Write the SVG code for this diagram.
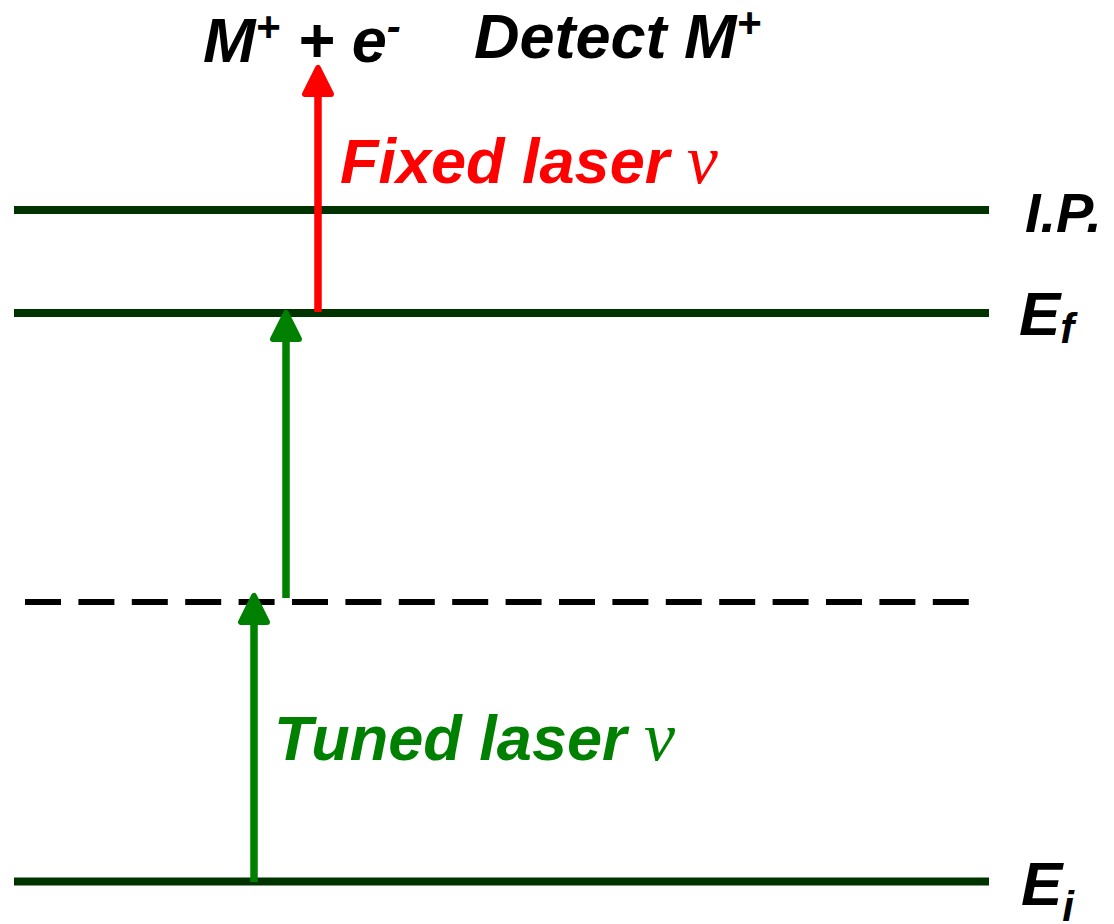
<svg xmlns="http://www.w3.org/2000/svg" width="1114" height="924" viewBox="0 0 1114 924">
<style>
.lvl{stroke:#003300;stroke-width:8;fill:none}
.dash{stroke:#000;stroke-width:6;stroke-dasharray:36 17.4;fill:none}
.t{font-family:"Liberation Sans",Arial,sans-serif;font-weight:bold;font-style:italic}
.nu{font-family:"Liberation Serif","Times New Roman",serif;font-style:italic;font-weight:normal}
.red{stroke:#FF0000;stroke-width:7.5;fill:none}
.grn{stroke:#008000;stroke-width:7.5;fill:none}
</style>
<defs>
<marker id="ahR" markerUnits="userSpaceOnUse" markerWidth="60" markerHeight="60" refX="0" refY="0" viewBox="-30 -30 60 60" orient="auto" overflow="visible">
<path d="M20,0 L-6,-13 L-6,13 Z" fill="#FF0000" stroke="#FF0000" stroke-width="6" stroke-linejoin="round"/>
</marker>
<marker id="ahG" markerUnits="userSpaceOnUse" markerWidth="60" markerHeight="60" refX="0" refY="0" viewBox="-30 -30 60 60" orient="auto" overflow="visible">
<path d="M20,0 L-6,-13 L-6,13 Z" fill="#008000" stroke="#008000" stroke-width="6" stroke-linejoin="round"/>
</marker>
</defs>
<rect width="1114" height="924" fill="#fff"/>
<g id="level-ip">
<line class="lvl" x1="14" y1="210" x2="989" y2="210"/>
<text class="t" x="1025" y="232" font-size="56">I.P.</text>
</g>
<g id="level-ef">
<line class="lvl" x1="14" y1="313" x2="989" y2="313"/>
<text class="t" x="1019" y="335" font-size="62">E<tspan font-size="42" dy="8">f</tspan></text>
</g>
<g id="level-virtual">
<line class="dash" x1="25" y1="602" x2="975" y2="602"/>
</g>
<g id="level-ei">
<line class="lvl" x1="14" y1="881.5" x2="989" y2="881.5"/>
<text class="t" x="1021" y="905" font-size="62">E<tspan font-size="42" dy="16">i</tspan></text>
</g>
<g id="label-products">
<text class="t" x="203" y="62" font-size="63">M<tspan font-size="42" dy="-21">+</tspan><tspan dy="21"> + e</tspan><tspan font-size="42" dy="-21">-</tspan></text>
</g>
<g id="label-detect">
<text class="t" x="474" y="58" font-size="63">Detect M<tspan font-size="42" dy="-21">+</tspan></text>
</g>
<g id="label-fixed">
<text class="t" x="340" y="183" font-size="63" fill="#FF0000">Fixed laser <tspan class="nu" font-size="70">ν</tspan></text>
</g>
<g id="label-tuned">
<text class="t" x="274" y="760" font-size="63" fill="#008000">Tuned laser <tspan class="nu" font-size="70">ν</tspan></text>
</g>
<g id="connectors">
<line class="red" x1="318" y1="312" x2="318" y2="88" marker-end="url(#ahR)"/>
<line class="grn" x1="286" y1="598" x2="286" y2="333" marker-end="url(#ahG)"/>
<line class="grn" x1="254" y1="882" x2="254" y2="616" marker-end="url(#ahG)"/>
</g>
</svg>
